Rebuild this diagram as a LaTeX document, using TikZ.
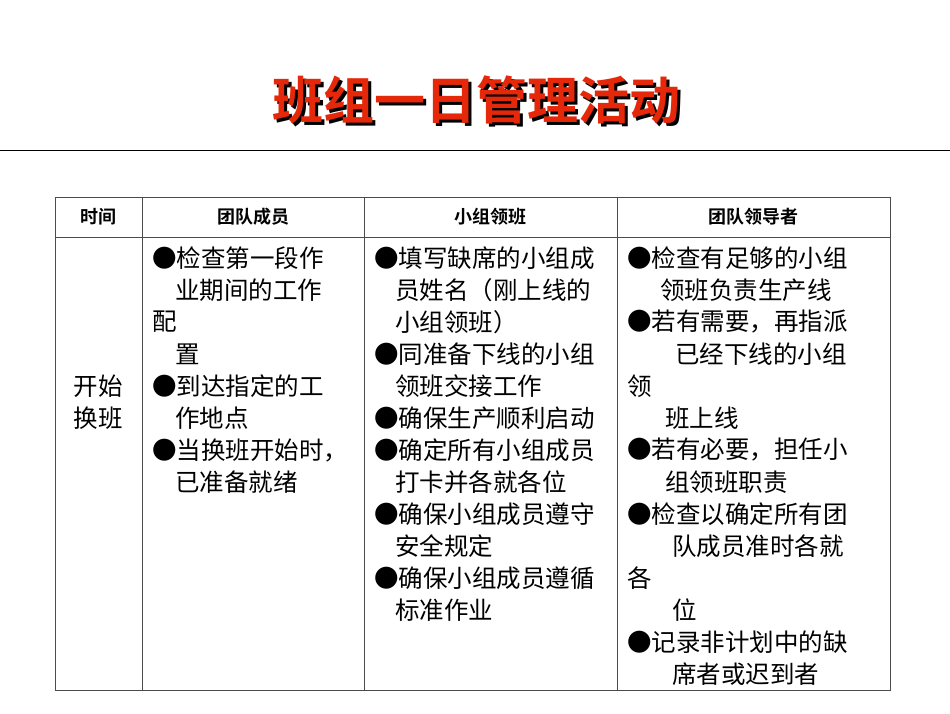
\documentclass[tikz,border=0pt]{standalone}
\usepackage{fontspec}
\setmainfont{Noto Sans CJK SC}
\newfontfamily\cjkb{Noto Sans CJK SC Bold}
\begin{document}
\begin{tikzpicture}[x=1pt,y=-1pt,
  tl/.style={anchor=west,inner sep=0pt,font=\fontsize{24.5}{24.5}\selectfont},
  hd/.style={inner sep=0pt,font=\cjkb\fontsize{18}{18}\selectfont},
  grid/.style={line width=0.8pt,black!70}]
\useasboundingbox (0,0) rectangle (950,713);
\node[font=\cjkb\fontsize{51}{51}\selectfont,text=black,inner sep=0pt] (tsh) at (479,103) {班组一日管理活动};
\node[font=\cjkb\fontsize{51}{51}\selectfont,text={rgb,255:red,230;green,40;blue,10},inner sep=0pt] (title) at (476,100) {班组一日管理活动};
\draw[line width=0.8pt] (0,150) -- (950,150);
\draw[grid] (55,197) rectangle (890,690);
\draw[grid] (55,237) -- (890,237);
\foreach \x in {142,364,617} \draw[grid] (\x,197) -- (\x,690);
\node[hd] (h1) at (98,217) {时间};
\node[hd] (h2) at (253,217) {团队成员};
\node[hd] (h3) at (490,217) {小组领班};
\node[hd] (h4) at (753,217) {团队领导者};
\node[tl,anchor=center] (c1a) at (98,386) {开始};
\node[tl,anchor=center] (c1b) at (98,418) {换班};
\foreach \xx/\yy/\t [count=\i] in {152/258/●检查第一段作,175/290/业期间的工作,152/322/配,175/354/置,152/386/●到达指定的工,175/418/作地点,152/450/{●当换班开始时，},175/482/已准备就绪}
  \node[tl] (a\i) at (\xx,\yy) {\t};
\foreach \xx/\yy/\t [count=\i] in {374/258/●填写缺席的小组成,395/290/员姓名（刚上线的,395/322/小组领班）,374/354/●同准备下线的小组,395/386/领班交接工作,374/418/●确保生产顺利启动,374/450/●确定所有小组成员,395/482/打卡并各就各位,374/514/●确保小组成员遵守,395/546/安全规定,374/578/●确保小组成员遵循,395/610/标准作业}
  \node[tl] (b\i) at (\xx,\yy) {\t};
\foreach \xx/\yy/\t [count=\i] in {627/258/●检查有足够的小组,660/290/领班负责生产线,627/322/{●若有需要，再指派},675/354/已经下线的小组,627/386/领,665/418/班上线,627/450/{●若有必要，担任小},665/482/组领班职责,627/514/●检查以确定所有团,672/546/队成员准时各就,627/578/各,672/610/位,627/642/●记录非计划中的缺,672/674/席者或迟到者}
  \node[tl] (d\i) at (\xx,\yy) {\t};
\end{tikzpicture}
\end{document}
